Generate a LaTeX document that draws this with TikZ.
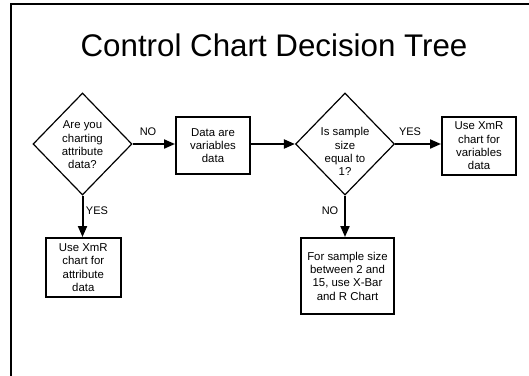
\documentclass[tikz,border=0pt]{standalone}
\usepackage{fontspec}
\setmainfont{Liberation Sans}
\usetikzlibrary{shapes.geometric,arrows.meta}
\begin{document}
\begin{tikzpicture}[x=1pt,y=-1pt,
  txtfont/.style={font=\fontsize{11.4}{13.3}\selectfont},
  box/.style={draw, line width=2pt, minimum width=74pt, minimum height=58pt, inner sep=0pt, align=center, txtfont},
  dia/.style={draw, diamond, line width=1.2pt, minimum width=99pt, minimum height=102pt, inner sep=0pt},
  txt/.style={align=center, txtfont, inner sep=0pt},
  lbl/.style={font=\fontsize{11}{13}\selectfont, inner sep=0pt},
  arr/.style={line width=2pt, -{Triangle[length=11pt,width=9pt]}}]
\useasboundingbox (0,0) rectangle (529,375);
\draw[line width=2pt] (11,376) -- (11,4) -- (530,4);
\node[font=\fontsize{31.3}{36}\selectfont, anchor=base, inner sep=0pt] (title) at (274,56.5) {Control Chart Decision Tree};
\node[dia] (d1) at (82.5,144) {};
\node[txt] (t1) at (82.5,145) {Are you\\charting\\attribute\\data?};
\node[box, minimum height=57pt] (b1) at (213,145.5) {Data are\\variables\\data};
\node[dia] (d2) at (345,144) {};
\node[txt] (t2) at (345,151.7) {Is sample\\size\\equal to\\1?};
\node[box] (b2) at (479,146) {Use XmR\\chart for\\variables\\data};
\node[box, minimum width=75pt, minimum height=59pt] (b3) at (83.3,267.5) {Use XmR\\chart for\\attribute\\data};
\node[box, minimum width=93pt, minimum height=76pt] (b4) at (347.5,276) {For sample size\\between 2 and\\15, use X-Bar\\and R Chart};
\draw[arr] (d1.east) -- (d1.east -| b1.west);
\draw[arr] (b1.east |- d2.west) -- (d2.west);
\draw[arr] (d2.east) -- (d2.east -| b2.west);
\draw[arr] (d1.south) -- (d1.south |- b3.north);
\draw[arr] (d2.south) -- (d2.south |- b4.north);
\node[lbl] (no1) at (148,132) {NO};
\node[lbl] (yes1) at (410,132) {YES};
\node[lbl] (yes2) at (97,211) {YES};
\node[lbl] (no2) at (330,211) {NO};
\end{tikzpicture}
\end{document}
